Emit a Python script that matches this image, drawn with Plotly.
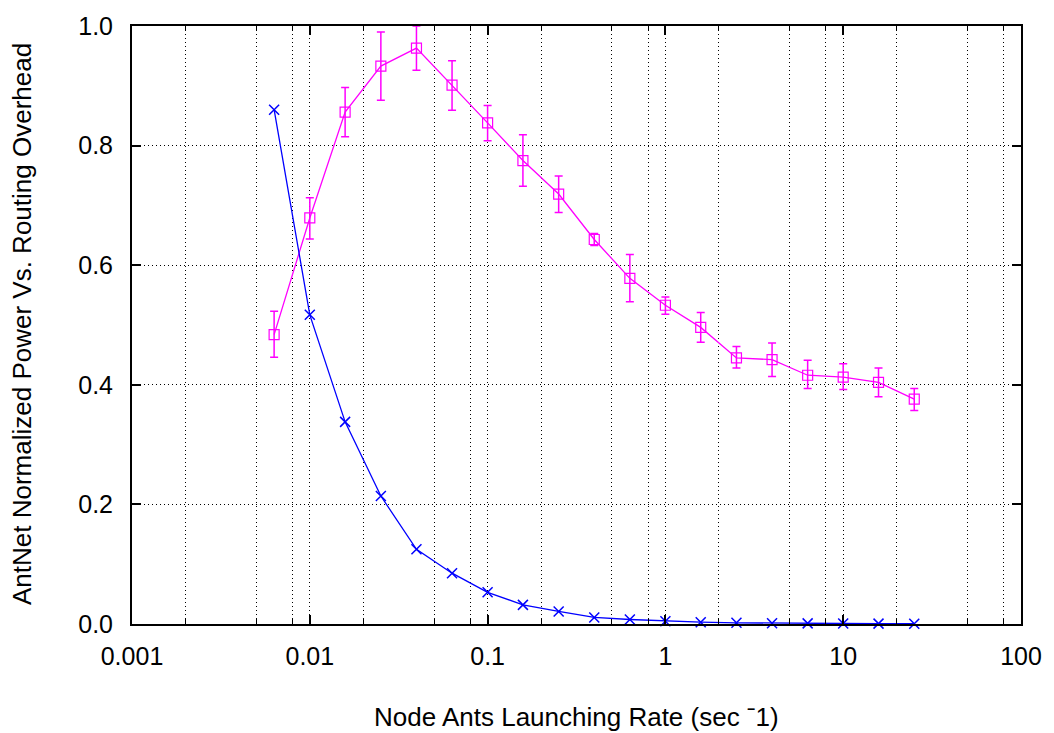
import plotly.graph_objects as go

# Node ant launching rate (1/sec)
rate = [0.0063, 0.01, 0.0158, 0.0251, 0.0398, 0.0631, 0.1, 0.158, 0.251, 0.398,
        0.631, 1.0, 1.58, 2.51, 3.98, 6.31, 10.0, 15.8, 25.1]

# Normalized power with upper / lower error limits
power = [0.484, 0.679, 0.856, 0.933, 0.963, 0.901, 0.838, 0.775, 0.719, 0.643,
         0.578, 0.533, 0.496, 0.445, 0.442, 0.416, 0.413, 0.404, 0.376]
power_hi = [0.523, 0.713, 0.897, 0.990, 1.000, 0.942, 0.867, 0.818, 0.749, 0.653,
            0.618, 0.547, 0.521, 0.464, 0.470, 0.441, 0.435, 0.428, 0.394]
power_lo = [0.446, 0.644, 0.815, 0.876, 0.926, 0.859, 0.808, 0.732, 0.688, 0.633,
            0.539, 0.518, 0.471, 0.428, 0.414, 0.394, 0.392, 0.380, 0.357]

# Routing overhead
overhead = [0.860, 0.517, 0.338, 0.214, 0.125, 0.085, 0.053, 0.032, 0.021, 0.011,
            0.0075, 0.0047, 0.0030, 0.0020, 0.0013, 0.0010, 0.0008, 0.0006, 0.0005]

x_major = [0.001, 0.01, 0.1, 1, 10, 100]
x_major_text = ["0.001", "0.01", "0.1", "1", "10", "100"]
x_minor = [m * d for d in [0.001, 0.01, 0.1, 1, 10] for m in (2, 5, 8)]
y_major = [0.0, 0.2, 0.4, 0.6, 0.8, 1.0]
y_major_text = ["0.0", "0.2", "0.4", "0.6", "0.8", "1.0"]

MAGENTA = "#ff00ff"
BLUE = "#0000ff"
FONT = "Liberation Sans, Arial, sans-serif"

fig = go.Figure()

fig.add_trace(go.Scatter(
    x=rate, y=power, mode="lines+markers",
    line=dict(color=MAGENTA, width=1.3),
    marker=dict(symbol="square-open", size=10, color=MAGENTA, line=dict(width=1.2)),
    error_y=dict(type="data", symmetric=False,
                 array=[h - v for h, v in zip(power_hi, power)],
                 arrayminus=[v - l for v, l in zip(power, power_lo)],
                 color=MAGENTA, thickness=1.5, width=4),
    showlegend=False, cliponaxis=False,
))

fig.add_trace(go.Scatter(
    x=rate, y=overhead, mode="lines+markers",
    line=dict(color=BLUE, width=1.3),
    marker=dict(symbol="x-thin-open", size=10, color=BLUE, line=dict(width=1.5, color=BLUE)),
    showlegend=False, cliponaxis=False,
))

grid_style = dict(gridcolor="#000000", gridwidth=1, griddash="1px,3px")

fig.update_xaxes(
    type="log", range=[-3, 2],
    tickmode="array", tickvals=x_major, ticktext=x_major_text,
    ticks="inside", ticklen=9, tickwidth=1.5, tickcolor="black",
    showline=True, linecolor="black", linewidth=2, mirror="allticks",
    showgrid=True, **grid_style,
    zeroline=False,
    tickfont=dict(family=FONT, size=25, color="black"),
    ticklabelstandoff=9,
    minor=dict(tickmode="array", tickvals=x_minor, ticks="inside", ticklen=5,
               tickwidth=1.2, tickcolor="black", showgrid=True, **grid_style),
)

fig.update_yaxes(
    range=[0, 1],
    tickmode="array", tickvals=y_major, ticktext=y_major_text,
    ticks="inside", ticklen=9, tickwidth=1.5, tickcolor="black",
    showline=True, linecolor="black", linewidth=2, mirror="allticks",
    showgrid=True, **grid_style,
    zeroline=False,
    tickfont=dict(family=FONT, size=25, color="black"),
    ticklabelstandoff=12,
)

fig.update_layout(
    width=1054, height=733,
    margin=dict(l=132, r=27, t=22, b=109),
    paper_bgcolor="white", plot_bgcolor="white",
    font=dict(family=FONT, color="black"),
    annotations=[
        dict(text="Node Ants Launching Rate (sec \u02c91)",
             xref="paper", yref="paper", x=0.5, y=-0.156,
             xanchor="center", yanchor="middle", showarrow=False,
             font=dict(family=FONT, size=26, color="black")),
        dict(text="AntNet Normalized Power Vs. Routing Overhead",
             xref="paper", yref="paper", x=-0.1235, y=0.502,
             xanchor="center", yanchor="middle", showarrow=False, textangle=-90,
             font=dict(family=FONT, size=26, color="black")),
    ],
)

fig.write_html("out.html")
